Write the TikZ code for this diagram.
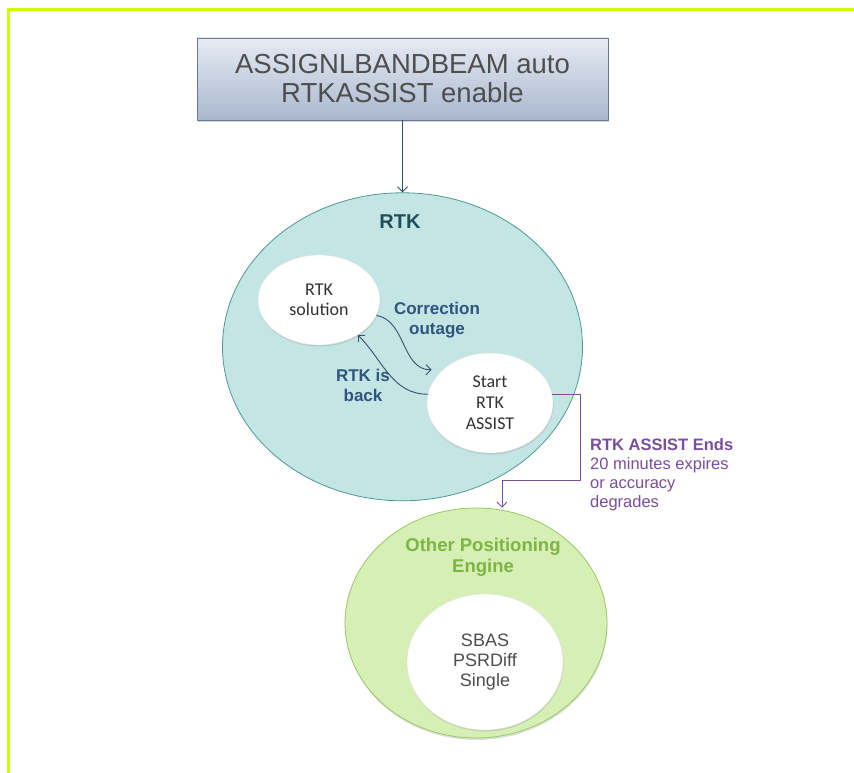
\documentclass[tikz,border=0pt]{standalone}
\usepackage{fontspec}
\setmainfont{Liberation Sans}
\newfontfamily\calibri{Carlito}
\usetikzlibrary{positioning,shapes.geometric,arrows.meta,shadows}
\definecolor{limeframe}{HTML}{CCFF00}
\definecolor{boxtop}{HTML}{E6EBF3}
\definecolor{boxbot}{HTML}{A9B7CE}
\definecolor{boxline}{HTML}{6A7A96}
\definecolor{inktext}{HTML}{4E4E4E}
\definecolor{linkblue}{HTML}{34506E}
\definecolor{rtkfill}{HTML}{C3E5E3}
\definecolor{rtkline}{HTML}{4F9898}
\definecolor{rtkdark}{HTML}{1F4F5C}
\definecolor{corrblue}{HTML}{2F5580}
\definecolor{endpurple}{HTML}{7A4E9E}
\definecolor{engfill}{HTML}{D6EFB4}
\definecolor{engline}{HTML}{98CA66}
\definecolor{enggreen}{HTML}{7DB443}
\tikzset{
  cmdbox/.style={rectangle, draw=boxline, line width=0.8pt, top color=boxtop, bottom color=boxbot,
    minimum width=411pt, minimum height=82pt, inner sep=0pt, align=center, text=inktext,
    font=\fontsize{27.5}{29}\selectfont, drop shadow={shadow xshift=1pt, shadow yshift=-2pt, opacity=0.3}},
  zone/.style={ellipse, line width=0.8pt, inner sep=0pt},
  bubble/.style={ellipse, fill=white, draw=white!88!black, line width=0.4pt, inner sep=0pt,
    align=center, text=black!80, drop shadow={shadow xshift=0.5pt, shadow yshift=-1.5pt, opacity=0.25}},
  tag/.style={align=center, inner sep=0pt},
  flow/.style={draw=linkblue, line width=0.9pt, -{Straight Barb[length=5pt,width=10pt]}},
  endflow/.style={draw=endpurple, line width=0.9pt, -{Straight Barb[length=5pt,width=10pt]}}
}
\begin{document}
\begin{tikzpicture}[x=1pt,y=1pt]
\useasboundingbox (0,0) rectangle (854,773);
\draw[limeframe, line width=3pt] (8,0) -- (8,763.5) -- (854,763.5);
\node[cmdbox] (cmd) at (402.5,694) {ASSIGNLBANDBEAM auto\\RTKASSIST enable};
\node[zone, fill=rtkfill, draw=rtkline, minimum width=360pt, minimum height=308pt, below=72pt of cmd] (rtk) {};
\node[tag, text=rtkdark, font=\bfseries\fontsize{20}{24}\selectfont] (rtkl) at (400,551) {RTK};
\node[bubble, minimum width=122pt, minimum height=90pt, font=\calibri\fontsize{18}{20}\selectfont] (sol) at (319,473) {RTK\\solution};
\node[bubble, minimum width=126pt, minimum height=100pt, font=\calibri\fontsize{18}{21}\selectfont] (assist) at (490,370) {Start\\RTK\\ASSIST};
\node[tag, text=corrblue, font=\bfseries\fontsize{17}{20}\selectfont] (corr) at (437,453) {Correction\\outage};
\node[tag, text=corrblue, font=\bfseries\fontsize{17}{20}\selectfont] (back) at (363,388) {RTK is\\back};
\node[zone, fill=engfill, draw=engline, minimum width=262pt, minimum height=230pt,
  drop shadow={shadow xshift=0.5pt, shadow yshift=-2pt, opacity=0.25}] (eng) at (476,150) {};
\node[tag, text=enggreen, font=\bfseries\fontsize{18.5}{21}\selectfont] (engl) at (483,216) {Other Positioning\\Engine};
\node[bubble, minimum width=156pt, minimum height=136pt, text=inktext, font=\fontsize{18}{20}\selectfont] (fall) at (485,111) {SBAS\\PSRDiff\\Single};
\node[tag, anchor=north west, align=left, text=endpurple, font=\fontsize{16.5}{19}\selectfont] (ends) at (590,335)
  {\textbf{RTK ASSIST Ends}\\20 minutes expires\\or accuracy\\degrades};
\coordinate (corrtip) at ([xshift=-11pt]assist.145);
\coordinate (bend) at (580,293);
\draw[flow] (cmd) -- (rtk);
\draw[flow] (sol.-15) to[out=-10, in=180] (corrtip);
\draw[flow] (assist.172) to[out=180, in=-45] (sol.-42);
\draw[endflow] (assist.8) -| (bend) -| ([xshift=26pt]eng.north);
\end{tikzpicture}
\end{document}
